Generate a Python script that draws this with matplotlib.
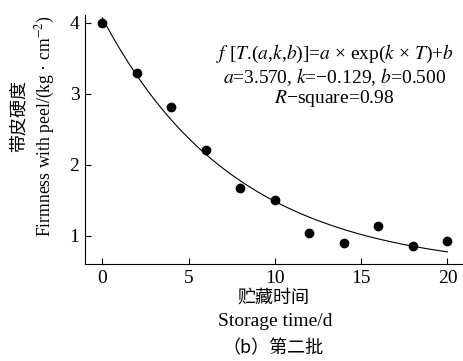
import numpy as np
import matplotlib
matplotlib.use("Agg")
import matplotlib.pyplot as plt

plt.rcParams['font.family'] = ['Liberation Serif', 'Noto Sans CJK SC']
plt.rcParams['mathtext.fontset'] = 'stix'

# data
days = [0, 2, 4, 6, 8, 10, 12, 14, 16, 18, 20]
firmness = [4.00, 3.29, 2.81, 2.20, 1.67, 1.50, 1.04, 0.89, 1.13, 0.855, 0.93]

# fitted parameters
a = 3.570
k = -0.129
b = 0.500

fig = plt.figure(figsize=(4.64, 3.61), dpi=100)
ax = fig.add_axes([0.1832, 0.2687, 0.8147, 0.6898])

T = np.linspace(0, 20, 200)
ax.plot(T, a * np.exp(k * T) + b, color="black", linewidth=0.8)
ax.plot(days, firmness, "o", color="black", markersize=6)

ax.set_xlim(-1, 20.9)
ax.set_ylim(0.6, 4.11)
ax.set_xticks([0, 5, 10, 15, 20])
ax.set_yticks([1, 2, 3, 4])
ax.tick_params(direction="in", length=4, width=0.8, labelsize=14, pad=4)
for s in ["top", "right"]:
    ax.spines[s].set_visible(False)
for s in ["left", "bottom"]:
    ax.spines[s].set_linewidth(0.8)

fs = 14
ax.text(0.66, 0.845, "$f$ [$T$.($a$,$k$,$b$)]=$a$ \u00d7 exp($k$ \u00d7 $T$)+$b$",
        transform=ax.transAxes, ha="center", va="center", fontsize=fs)
ax.text(0.66, 0.75, "$a$=3.570, $k$=\u22120.129, $b$=0.500",
        transform=ax.transAxes, ha="center", va="center", fontsize=fs)
ax.text(0.66, 0.665, "$R$\u2212square=0.98",
        transform=ax.transAxes, ha="center", va="center", fontsize=fs)

# y axis label, two lines
fig.text(18 / 464, 1 - 116 / 361, "带皮硬度", rotation=90, ha="center", va="center",
         fontsize=13, family=['Noto Sans CJK SC'])
fig.text(45 / 464, 1 - 126 / 361, "Firmness with peel/(kg \u00b7 cm$^{-2}$)", rotation=90,
         ha="center", va="center", fontsize=12.7)

# x axis label, two lines plus caption
fig.text(273 / 464, 1 - 298 / 361, "贮藏时间", ha="center", va="center",
         fontsize=13, family=['Noto Sans CJK SC'])
fig.text(275 / 464, 1 - 322 / 361, "Storage time/d", ha="center", va="center", fontsize=14)
fig.text(273 / 464, 1 - 348 / 361, "（b）第二批", ha="center", va="center",
         fontsize=13, family=['Noto Sans CJK SC'])

fig.savefig("out.png", dpi=100)
